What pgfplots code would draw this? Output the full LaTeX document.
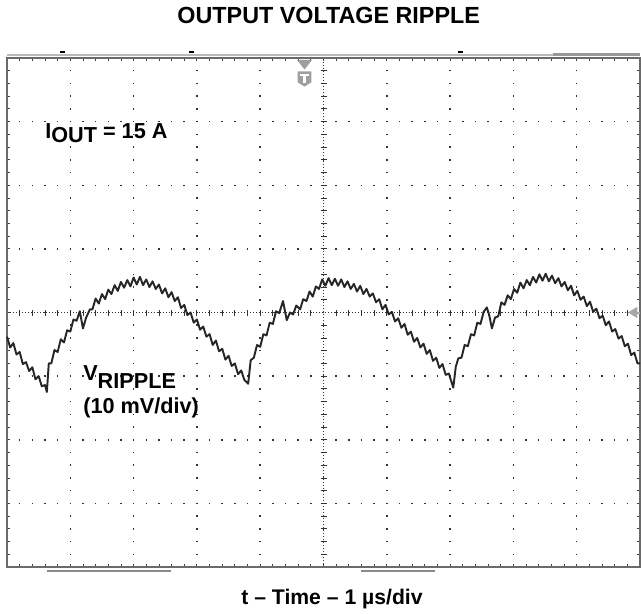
\documentclass[border=0pt]{standalone}
\usepackage{pgfplots}
\pgfplotsset{compat=1.18}
\usepackage{fontspec}
\setmainfont{Liberation Sans}
\definecolor{trace}{HTML}{262626}
\definecolor{frame}{HTML}{6A6A6A}

\begin{document}
\begin{tikzpicture}
\path[use as bounding box] (-4.2pt,-27.6pt) rectangle (380.4pt,340.2pt);

% centre crosshair (scope style)
\begin{axis}[
    at={(0,0)}, anchor=south west,
    scale only axis, width=379.8pt, height=305.4pt,
    xmin=-5, xmax=5, ymin=-4, ymax=4,
    axis lines=center,
    axis line style={-, black!80, line width=0.6pt, dash pattern=on 0.6pt off 1.2pt},
    xtick={-4.8,-4.6,...,4.8}, ytick={-3.8,-3.6,...,3.8},
    xticklabels={}, yticklabels={},
    tick align=center, major tick length=3.6pt,
    tick style={black!80, line width=0.5pt},
]
\end{axis}

\begin{axis}[
    at={(0,0)}, anchor=south west,
    scale only axis, width=379.8pt, height=305.4pt,
    xmin=0, xmax=10, ymin=-4, ymax=4,
    xtick={0,...,10}, ytick={-4,...,4},
    minor x tick num=4, minor y tick num=4,
    xticklabels={}, yticklabels={},
    tick align=inside, major tick length=2pt, minor tick length=2pt,
    tick style={black!75, line width=0.5pt},
    xmajorgrids, ymajorgrids,
    x grid style={black!80, line width=0.9pt, dash pattern=on 0.9pt off 6.735pt, dash phase=0.45pt},
    y grid style={black!80, line width=0.9pt, dash pattern=on 0.9pt off 6.696pt, dash phase=0.45pt},
    axis line style={frame, line width=1.6pt},
    clip=false,
]
\addplot[trace, line width=1.15pt, line join=round] coordinates {
(0.00,-0.38) (0.05,-0.55) (0.10,-0.48) (0.15,-0.66) (0.20,-0.62) (0.25,-0.81) (0.30,-0.78) (0.35,-0.92)
(0.40,-0.86) (0.45,-1.05) (0.50,-1.00) (0.55,-1.16) (0.60,-1.14) (0.63,-1.25) (0.66,-0.80) (0.70,-0.80)
(0.75,-0.59) (0.80,-0.62) (0.85,-0.42) (0.90,-0.47) (0.95,-0.28) (1.00,-0.30) (1.05,-0.11) (1.10,-0.13)
(1.15,0.02) (1.20,-0.25) (1.25,-0.08) (1.31,0.05) (1.35,0.05) (1.40,0.22) (1.45,0.14) (1.50,0.29)
(1.55,0.21) (1.60,0.36) (1.65,0.29) (1.70,0.43) (1.75,0.34) (1.80,0.48) (1.85,0.39) (1.90,0.51)
(1.95,0.41) (2.00,0.55) (2.05,0.44) (2.10,0.56) (2.15,0.43) (2.20,0.52) (2.25,0.40) (2.30,0.49)
(2.35,0.37) (2.40,0.44) (2.45,0.30) (2.50,0.38) (2.55,0.24) (2.60,0.32) (2.65,0.18) (2.70,0.24)
(2.75,0.07) (2.80,0.12) (2.85,-0.04) (2.90,0.00) (2.95,-0.16) (3.00,-0.11) (3.05,-0.27) (3.10,-0.22)
(3.15,-0.38) (3.20,-0.34) (3.25,-0.51) (3.30,-0.44) (3.35,-0.61) (3.40,-0.57) (3.45,-0.74) (3.50,-0.68)
(3.55,-0.84) (3.60,-0.80) (3.65,-0.97) (3.70,-0.91) (3.75,-1.06) (3.81,-1.12) (3.85,-0.75) (3.90,-0.71)
(3.95,-0.51) (4.00,-0.54) (4.05,-0.34) (4.10,-0.36) (4.15,-0.16) (4.20,-0.18) (4.25,0.02) (4.30,-0.01)
(4.36,0.18) (4.42,-0.12) (4.47,0.00) (4.52,-0.03) (4.57,0.11) (4.63,0.05) (4.68,0.21) (4.73,0.18)
(4.78,0.33) (4.83,0.25) (4.88,0.41) (4.93,0.37) (4.98,0.52) (5.03,0.42) (5.08,0.54) (5.13,0.43)
(5.18,0.53) (5.23,0.42) (5.28,0.52) (5.33,0.40) (5.38,0.49) (5.43,0.37) (5.48,0.45) (5.53,0.33)
(5.58,0.42) (5.63,0.29) (5.68,0.37) (5.73,0.25) (5.78,0.30) (5.83,0.16) (5.88,0.21) (5.93,0.05)
(5.98,0.12) (6.03,-0.03) (6.08,0.01) (6.13,-0.14) (6.18,-0.09) (6.23,-0.24) (6.28,-0.18) (6.33,-0.35)
(6.38,-0.30) (6.43,-0.46) (6.48,-0.40) (6.53,-0.55) (6.58,-0.49) (6.63,-0.65) (6.68,-0.59) (6.73,-0.76)
(6.78,-0.71) (6.83,-0.87) (6.88,-0.81) (6.93,-0.98) (6.98,-0.96) (7.05,-1.18) (7.09,-0.85) (7.13,-0.72)
(7.18,-0.71) (7.23,-0.51) (7.28,-0.53) (7.33,-0.34) (7.38,-0.36) (7.43,-0.16) (7.48,-0.18) (7.53,0.01)
(7.58,0.08) (7.62,-0.05) (7.66,-0.25) (7.71,-0.08) (7.76,-0.06) (7.81,0.16) (7.86,0.12) (7.91,0.27)
(7.96,0.21) (8.01,0.37) (8.06,0.31) (8.11,0.47) (8.16,0.38) (8.21,0.51) (8.26,0.43) (8.31,0.56)
(8.36,0.47) (8.41,0.60) (8.46,0.50) (8.51,0.61) (8.56,0.49) (8.61,0.58) (8.66,0.46) (8.71,0.54)
(8.76,0.41) (8.81,0.48) (8.86,0.35) (8.91,0.42) (8.96,0.27) (9.01,0.34) (9.06,0.20) (9.11,0.25)
(9.16,0.10) (9.21,0.17) (9.26,0.01) (9.31,0.06) (9.36,-0.09) (9.41,-0.05) (9.46,-0.20) (9.51,-0.14)
(9.56,-0.30) (9.61,-0.26) (9.66,-0.41) (9.71,-0.37) (9.76,-0.53) (9.81,-0.49) (9.86,-0.67) (9.91,-0.63)
(9.96,-0.80) (10.00,-0.80)
};

% scope decorations
\draw[gray!55, line width=1pt] (axis cs:0,4.05) -- (axis cs:10,4.05);
\draw[gray!80, line width=2pt] (axis cs:8.63,4.05) -- (axis cs:10,4.05);
\draw[black, line width=1.2pt] (axis cs:0.84,4.09) -- (axis cs:0.92,4.09);
\draw[black, line width=1.2pt] (axis cs:2.88,4.09) -- (axis cs:2.96,4.09);
\draw[black, line width=1.2pt] (axis cs:7.12,4.09) -- (axis cs:7.20,4.09);
\draw[gray!90, line width=1.4pt] (axis cs:0.63,-4.06) -- (axis cs:2.59,-4.06);
\draw[gray!90, line width=1.4pt] (axis cs:5.59,-4.06) -- (axis cs:6.76,-4.06);
% trigger marker
\fill[gray!75] (axis cs:4.58,3.97) -- (axis cs:4.82,3.97) -- (axis cs:4.70,3.82) -- cycle;
\fill[gray!75] (axis cs:4.59,3.79) -- (axis cs:4.81,3.79) -- (axis cs:4.81,3.62)
    -- (axis cs:4.70,3.55) -- (axis cs:4.59,3.62) -- cycle;
\draw[white, line width=1.3pt] (axis cs:4.635,3.735) -- (axis cs:4.765,3.735);
\draw[white, line width=1.3pt] (axis cs:4.70,3.735) -- (axis cs:4.70,3.60);
% ground level marker
\fill[gray!70] (axis cs:9.81,0) -- (axis cs:9.96,0.09) -- (axis cs:9.96,-0.09) -- cycle;
\draw[gray!70, line width=1.2pt] (axis cs:9.9,0) -- (axis cs:10,0);

\node[anchor=base west, inner sep=0, font=\bfseries\fontsize{13}{15}\selectfont]
    at (axis cs:0.6,2.73) {I\raisebox{-2.4pt}{OUT} = 15 A};
\node[anchor=base west, inner sep=0, font=\bfseries\fontsize{13}{15}\selectfont]
    at (axis cs:1.2,-1.19) {\raisebox{4.5pt}{V}RIPPLE};
\node[anchor=base west, inner sep=0, font=\bfseries\fontsize{13}{15}\selectfont]
    at (axis cs:1.2,-1.58) {(10 mV/div)};
\end{axis}

\node[anchor=base, font=\bfseries\fontsize{14}{16}\selectfont] at (193pt,325.8pt) {OUTPUT VOLTAGE RIPPLE};
\node[anchor=base, font=\bfseries\fontsize{12.7}{15}\selectfont] at (195pt,-22.2pt) {t – Time – 1 µs/div};
\end{tikzpicture}
\end{document}
